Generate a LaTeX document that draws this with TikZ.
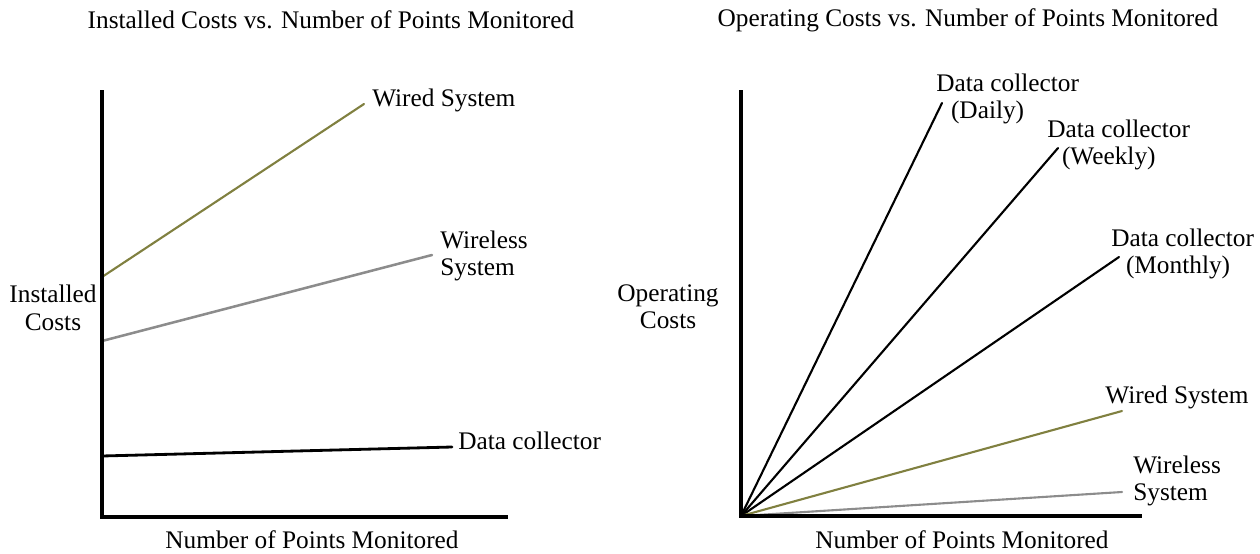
\documentclass[tikz,border=0pt]{standalone}
\usepackage{fontspec}
\setmainfont{Liberation Serif}
\usetikzlibrary{positioning}
\definecolor{olive}{RGB}{128,128,64}
\definecolor{midgray}{RGB}{140,140,140}
\tikzstyle{axis} = [line width=2.8pt, black]
\tikzstyle{costline} = [line width=1.5pt, line cap=round]
\tikzstyle{plottext} = [inner sep=0pt, font=\fontsize{18}{19.5}\selectfont]
\newcommand{\indentline}{\hspace*{10.5pt}}

\begin{document}
\begin{tikzpicture}[x=0.025cm, y=-0.025cm]
\useasboundingbox (0,0) rectangle (1260,553);

% installed costs
\coordinate (ltop) at (102,90);
\coordinate (lorig) at (102,517);
\coordinate (lend) at (508,517);
\coordinate (lwiredA) at (102,277);
\coordinate (lwiredB) at (364,104);
\coordinate (lwlessA) at (102,341);
\coordinate (lwlessB) at (432,255);
\coordinate (lcollA) at (102,456);
\coordinate (lcollB) at (452,447);

\node (ltitle) [plottext] at (331,20) {Installed Costs vs. Number of Points Monitored};
\node (lylabel) [plottext, align=center] at (53,308) {Installed\\Costs};
\node (lxlabel) [plottext] at (312,540) {Number of Points Monitored};
\node (lwired) [plottext, anchor=west] at (372,100) {Wired System};
\node (lwless) [plottext, anchor=west, align=left] at (440,256) {Wireless\\System};
\node (lcoll) [plottext, anchor=west] at (458,441) {Data collector};

\draw [costline, olive] (lwiredA) -- (lwiredB);
\draw [costline, midgray, line width=1.8pt] (lwlessA) -- (lwlessB);
\draw [costline, line width=2pt] (lcollA) -- (lcollB);
\draw [axis] (ltop) -- (lorig) -- (lend);

% operating costs
\coordinate (rtop) at (741,90);
\coordinate (rorig) at (741,516);
\coordinate (rend) at (1142,516);
\coordinate (rdaily) at (942,103);
\coordinate (rweekly) at (1058,148);
\coordinate (rmonthly) at (1119,257);
\coordinate (rwired) at (1122,411);
\coordinate (rwless) at (1122,492);

\node (rtitle) [plottext] at (968,20) {Operating Costs vs. Number of Points Monitored};
\node (rylabel) [plottext, align=center] at (668,307) {Operating\\Costs};
\node (rxlabel) [plottext] at (962,540) {Number of Points Monitored};
\node (rdailytxt) [plottext, anchor=west, align=left] at (936,99) {Data collector\\\indentline(Daily)};
\node (rweeklytxt) [plottext, anchor=west, align=left] at (1047,145) {Data collector\\\indentline(Weekly)};
\node (rmonthlytxt) [plottext, anchor=west, align=left] at (1111,254) {Data collector\\\indentline(Monthly)};
\node (rwiredtxt) [plottext] at (1177,397) {Wired System};
\node (rwlesstxt) [plottext, anchor=west, align=left] at (1133,481) {Wireless\\System};

\draw [costline] (rorig) -- (rdaily);
\draw [costline] (rorig) -- (rweekly);
\draw [costline] (rorig) -- (rmonthly);
\draw [costline, olive] (rorig) -- (rwired);
\draw [costline, midgray] (rorig) -- (rwless);
\draw [axis] (rtop) -- (rorig) -- (rend);

\end{tikzpicture}
\end{document}
